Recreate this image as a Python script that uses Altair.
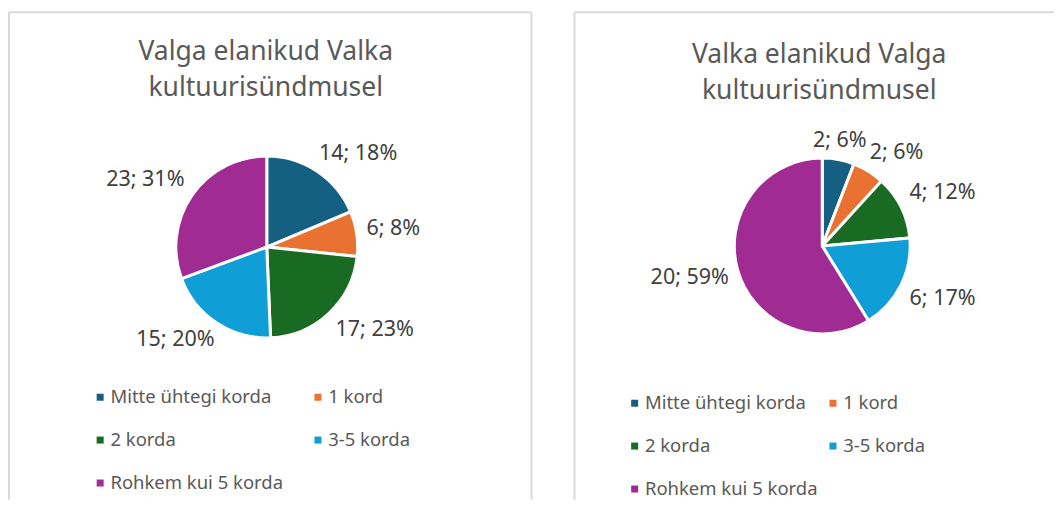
import altair as alt
import pandas as pd

# ---- data ----
categories = ["Mitte ühtegi korda", "1 kord", "2 korda", "3-5 korda", "Rohkem kui 5 korda"]
colors = ["#156082", "#E97132", "#196B24", "#0F9ED5", "#A02B93"]

valga_counts = [14, 6, 17, 15, 23]
valga_pcts = [18, 8, 23, 20, 31]
valka_counts = [2, 2, 4, 6, 20]
valka_pcts = [6, 6, 12, 17, 59]

title_left = ["Valga elanikud Valka", "kultuurisündmusel"]
title_right = ["Valka elanikud Valga", "kultuurisündmusel"]

FONT = "Noto Sans"
BORDER = "#d9d9d9"


def make_df(counts, pcts):
    return pd.DataFrame({
        "idx": list(range(len(categories))),
        "cat": categories,
        "count": counts,
        "label": [f"{c}; {p}%" for c, p in zip(counts, pcts)],
    })


def panel(counts, pcts, title, W, H, cx, cy, R, title_x, title_y, leg_x, leg_y,
          col_pad, right_border):
    df = make_df(counts, pcts)
    one = pd.DataFrame({"a": [0]})

    arcs = alt.Chart(df).mark_arc(outerRadius=R, stroke="white", strokeWidth=3).encode(
        theta=alt.Theta("count:Q", stack=True),
        color=alt.Color(
            "cat:N",
            scale=alt.Scale(domain=categories, range=colors),
            sort=categories,
            legend=alt.Legend(
                title=None, orient="none", legendX=leg_x, legendY=leg_y,
                direction="horizontal", columns=2, columnPadding=col_pad,
                rowPadding=24,
                symbolType="square", symbolSize=49, symbolStrokeWidth=0,
                labelFont=FONT, labelFontSize=18.5, labelColor="#595959",
                labelOffset=1, padding=0, labelLimit=400,
            ),
        ),
        order=alt.Order("idx:Q"),
        x=alt.value(cx),
        y=alt.value(cy),
    )

    P = R + 8
    labels = alt.Chart(df).transform_window(
        cum="sum(count)", sort=[alt.SortField("idx")]
    ).transform_joinaggregate(
        total="sum(count)"
    ).transform_calculate(
        mid="(datum.cum - datum.count/2) / datum.total * 2 * PI",
        sx="(sin(datum.mid) < 0 ? -1 : 1) * clamp((abs(sin(datum.mid)) - 0.25) * 3, 0, 1)",
        sy="clamp(-2*cos(datum.mid), -1, 1)",
        w="length(datum.label) * 11.5",
    ).transform_calculate(
        lx=f"{cx} + {P}*sin(datum.mid) + datum.sx*datum.w/2",
        ly=f"{cy} - {P}*cos(datum.mid) + datum.sy*11",
    ).mark_text(
        font=FONT, fontSize=21.5, color="#404040", align="center", baseline="middle"
    ).encode(
        x=alt.X("lx:Q", scale=None, axis=None),
        y=alt.Y("ly:Q", scale=None, axis=None),
        text="label:N",
    )

    ttl = alt.Chart(one).mark_text(
        text=title, font=FONT, fontSize=26.5, color="#595959",
        align="center", baseline="alphabetic", lineHeight=36,
    ).encode(x=alt.value(title_x), y=alt.value(title_y))

    left = alt.Chart(one).mark_rule(color=BORDER, strokeWidth=2).encode(
        x=alt.value(0), y=alt.value(0), y2=alt.value(H))
    top = alt.Chart(one).mark_rule(color=BORDER, strokeWidth=2).encode(
        x=alt.value(0), x2=alt.value(W), y=alt.value(0))
    layers = [left, top]
    if right_border:
        layers.append(alt.Chart(one).mark_rule(color=BORDER, strokeWidth=2).encode(
            x=alt.value(W), y=alt.value(0), y2=alt.value(H)))
    layers += [arcs, labels, ttl]
    return alt.layer(*layers).properties(width=W, height=H)


H = 488
p1 = panel(valga_counts, valga_pcts, title_left, 523, H, 258, 235, 91,
           257, 48, 82, 376, 25, True)
p2 = panel(valka_counts, valka_pcts, title_right, 480, H, 248, 234, 88,
           245, 51, 51, 382, 5.5, False)

chart = alt.hconcat(p1, p2, spacing=41).resolve_scale(
    color="independent", theta="independent"
).resolve_legend(color="independent").properties(
    padding={"left": 0, "top": 3, "right": 0, "bottom": 0}
).configure_view(stroke=None)

chart.save("out.html", embed_options={"renderer": "svg", "actions": False})
